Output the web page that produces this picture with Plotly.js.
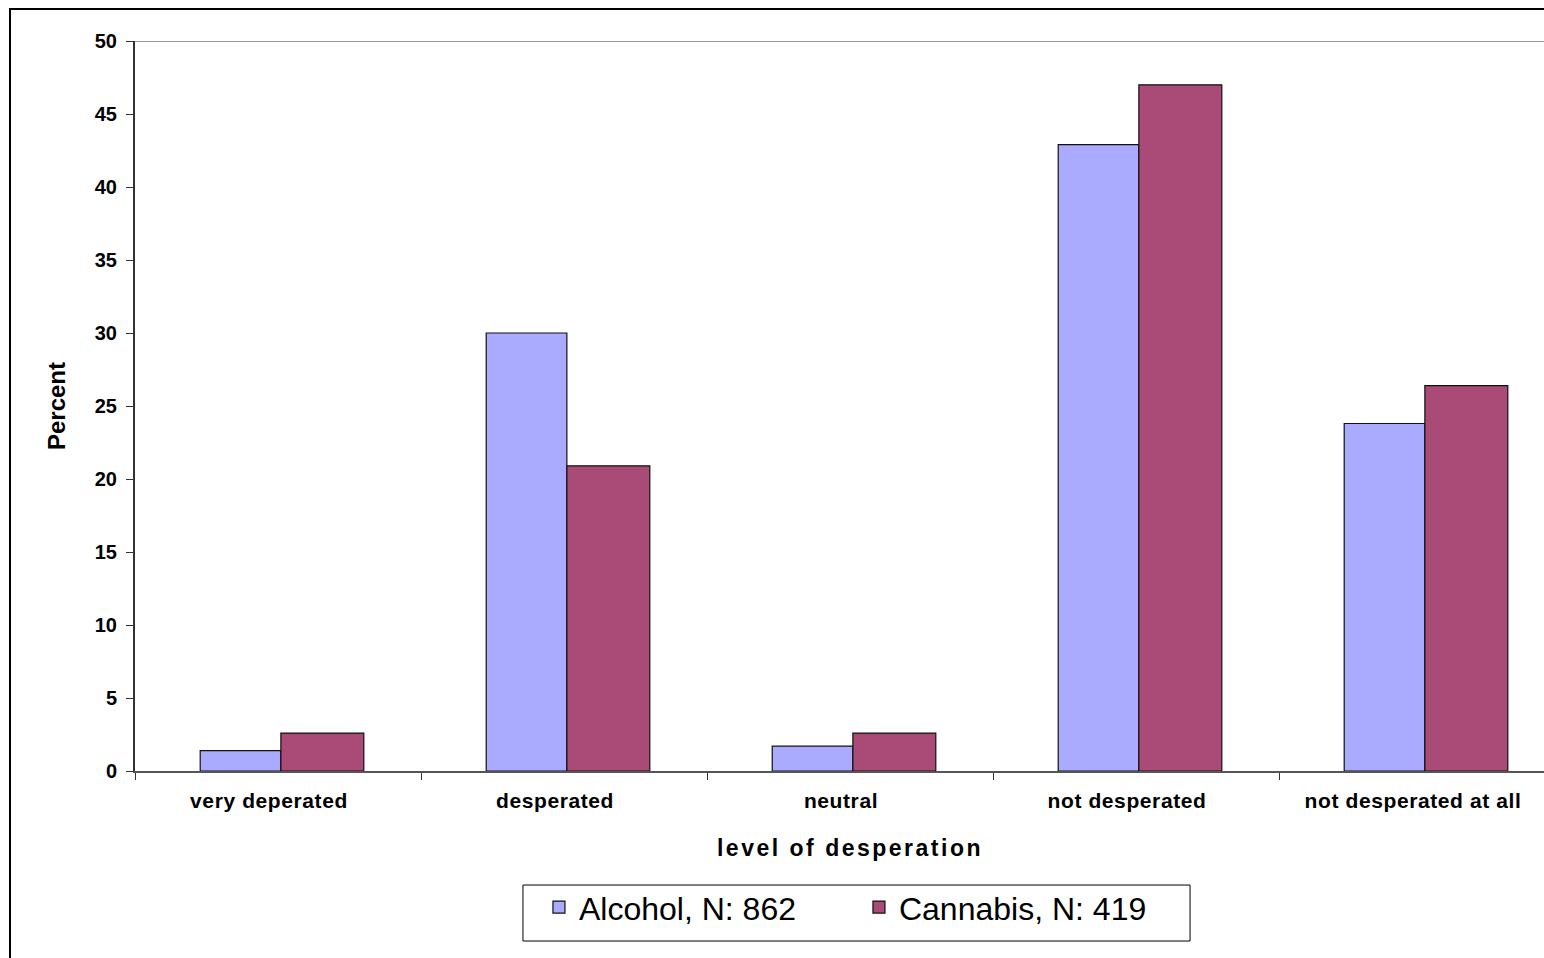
<!DOCTYPE html>
<html>
<head>
<meta charset="utf-8">
<script src="https://cdn.plot.ly/plotly-3.0.1.min.js"></script>
<style>
  html, body { margin: 0; padding: 0; overflow: hidden; background: #fff; width: 1544px; height: 958px; }
  #chart { position: absolute; left: 0; top: 0; width: 1600px; height: 1000px; }
  #frame { position: absolute; left: 9px; top: 8px; width: 2000px; height: 2000px;
           border-left: 2px solid #000; border-top: 2px solid #000; pointer-events: none; }
  .xtitle { letter-spacing: 2.5px; }
  .xtick text { letter-spacing: 0.6px; }
</style>
</head>
<body>
<div id="chart"></div>
<div id="frame"></div>
<script>
const categories = ["very deperated", "desperated", "neutral", "not desperated", "not desperated at all"];
const alcoholValues = [1.4, 30.0, 1.7, 42.9, 23.8];
const cannabisValues = [2.6, 20.9, 2.6, 47.0, 26.4];
const seriesNames = ["Alcohol, N: 862", "Cannabis, N: 419"];
const yTicks = [0, 5, 10, 15, 20, 25, 30, 35, 40, 45, 50];

const traces = [
  { type: "bar", name: seriesNames[0], x: categories, y: alcoholValues,
    offset: -0.272, width: 0.282,
    marker: { color: "#AAAAFF", line: { color: "#111", width: 1.2 } }, hoverinfo: "skip" },
  { type: "bar", name: seriesNames[1], x: categories, y: cannabisValues,
    offset: 0.01, width: 0.29,
    marker: { color: "#AA4A76", line: { color: "#111", width: 1.2 } }, hoverinfo: "skip" }
];

const layout = {
  width: 1600, height: 1000,
  margin: { l: 135, r: 35, t: 41, b: 229 },
  paper_bgcolor: "#fff", plot_bgcolor: "#fff",
  barmode: "group",
  font: { family: "Arial, 'Liberation Sans', sans-serif", color: "#000" },
  xaxis: {
    type: "category", tickson: "boundaries", ticks: "outside", ticklen: 7, tickcolor: "#333",
    showline: true, linecolor: "#555", linewidth: 2,
    showgrid: false, zeroline: false, ticklabelstandoff: 10, ticklabelshift: -9,
    tickfont: { size: 21, weight: "bold" },
    title: { text: "level of desperation", font: { size: 23, weight: "bold" }, standoff: 29 }
  },
  yaxis: {
    range: [0, 50], tickvals: yTicks, ticktext: yTicks.map(String),
    ticks: "outside", ticklen: 7, tickcolor: "#333",
    showline: true, linecolor: "#333", linewidth: 2,
    showgrid: false, zeroline: false, ticklabelstandoff: 5,
    tickfont: { size: 20, weight: "bold" },
    title: { text: "Percent", font: { size: 24, weight: "bold" }, standoff: 22 }
  },
  shapes: [
    { type: "line", xref: "paper", yref: "y", x0: 0, x1: 1, y0: 50, y1: 50,
      line: { color: "#999", width: 2 } },
    { type: "rect", xref: "paper", yref: "paper", x0: 0.2713, x1: 0.7378, y0: -0.1562, y1: -0.2329,
      line: { color: "#000", width: 1 }, fillcolor: "rgba(0,0,0,0)" }
  ],
  showlegend: true,
  legend: {
    orientation: "h", x: 0.2713, y: -0.149, xanchor: "left", yanchor: "top",
    borderwidth: 0, bgcolor: "rgba(0,0,0,0)", indentation: 16,
    font: { size: 32, color: "#000" }, itemwidth: 30, entrywidth: 259
  }
};

Plotly.newPlot("chart", traces, layout, { displayModeBar: false, staticPlot: true });
</script>
</body>
</html>
